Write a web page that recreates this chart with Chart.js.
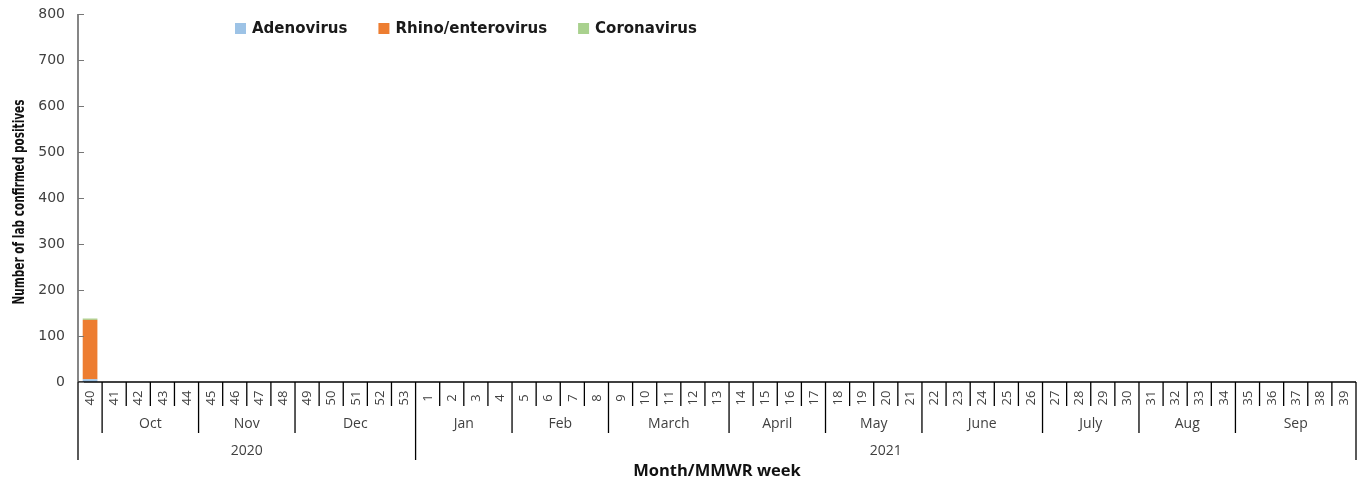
<!DOCTYPE html>
<html>
<head>
<meta charset="utf-8">
<script src="https://cdn.jsdelivr.net/npm/chart.js@4"></script>
<style>
  html, body { margin: 0; padding: 0; background: #fff; }
  #wrap { width: 1357px; height: 481px; position: relative; }
</style>
</head>
<body>
<div id="wrap"><canvas id="virusChart"></canvas></div>
<script>
// weeks (MMWR) shown on the x axis
const weeks = ['40','41','42','43','44','45','46','47','48','49','50','51','52','53',
  '1','2','3','4','5','6','7','8','9','10','11','12','13','14','15','16','17','18','19','20',
  '21','22','23','24','25','26','27','28','29','30','31','32','33','34','35','36','37','38','39'];

// month row and year row (label + number of weeks covered)
const monthLabels = ['', 'Oct', 'Nov', 'Dec', 'Jan', 'Feb', 'March', 'April', 'May', 'June', 'July', 'Aug', 'Sep'];
const monthSpans = [1, 4, 4, 5, 4, 4, 5, 4, 4, 5, 4, 4, 5];
const yearLabels = ['2020', '2021'];
const yearSpans = [14, 39];

// series
const adenovirus = [6,0,0,0,0,0,0,0,0,0,0,0,0,0,0,0,0,0,0,0,0,0,0,0,0,0,0,0,0,0,0,0,0,0,0,0,0,0,0,0,0,0,0,0,0,0,0,0,0,0,0,0,0];
const rhinoEntero = [129,0,0,0,0,0,0,0,0,0,0,0,0,0,0,0,0,0,0,0,0,0,0,0,0,0,0,0,0,0,0,0,0,0,0,0,0,0,0,0,0,0,0,0,0,0,0,0,0,0,0,0,0];
const coronavirus = [3,0,0,0,0,0,0,0,0,0,0,0,0,0,0,0,0,0,0,0,0,0,0,0,0,0,0,0,0,0,0,0,0,0,0,0,0,0,0,0,0,0,0,0,0,0,0,0,0,0,0,0,0];

const yTicks = [0, 100, 200, 300, 400, 500, 600, 700, 800];

const LABEL_FONT = '"Open Sans", "DejaVu Sans", sans-serif';

// draws the grouped category axis, y tick marks, axis titles and legend
const axisPlugin = {
  id: 'axisPlugin',
  afterDraw(chart) {
    const ctx = chart.ctx;
    const x = chart.scales.x;
    const y = chart.scales.y;
    const area = chart.chartArea;
    const n = weeks.length;
    const bottom = area.bottom;

    const edge = (i) => {
      if (i <= 0) return area.left;
      if (i >= n) return area.right;
      return (x.getPixelForValue(i - 1) + x.getPixelForValue(i)) / 2;
    };

    ctx.save();
    ctx.lineWidth = 1.3;
    ctx.strokeStyle = '#000';

    // x axis line
    ctx.beginPath();
    ctx.moveTo(area.left, bottom);
    ctx.lineTo(area.right, bottom);
    ctx.stroke();

    // y axis line
    ctx.strokeStyle = '#444';
    ctx.beginPath();
    ctx.moveTo(area.left, y.getPixelForValue(800));
    ctx.lineTo(area.left, bottom);
    ctx.stroke();

    // y tick marks (inside)
    ctx.strokeStyle = '#777';
    ctx.lineWidth = 1;
    yTicks.forEach(v => {
      const py = Math.round(y.getPixelForValue(v)) + 0.5;
      ctx.beginPath();
      ctx.moveTo(area.left, py);
      ctx.lineTo(area.left + 6, py);
      ctx.stroke();
    });

    // separator depth for each boundary
    const depth = new Array(n + 1).fill(bottom + 24);
    let acc = 0;
    monthSpans.forEach(s => { depth[acc] = bottom + 51; acc += s; depth[acc] = bottom + 51; });
    acc = 0;
    yearSpans.forEach(s => { depth[acc] = bottom + 78; acc += s; depth[acc] = bottom + 78; });

    ctx.strokeStyle = '#000';
    ctx.lineWidth = 1.3;
    for (let i = 0; i <= n; i++) {
      const px = edge(i);
      ctx.beginPath();
      ctx.moveTo(px, bottom);
      ctx.lineTo(px, depth[i]);
      ctx.stroke();
    }

    // week labels, rotated
    ctx.fillStyle = '#404040';
    ctx.font = '13px ' + LABEL_FONT;
    ctx.textAlign = 'center';
    ctx.textBaseline = 'middle';
    weeks.forEach((w, i) => {
      ctx.save();
      ctx.translate(x.getPixelForValue(i) + 0.5, bottom + 16);
      ctx.rotate(-Math.PI / 2);
      ctx.fillText(w, 0, 0);
      ctx.restore();
    });

    // month labels
    ctx.font = '14px ' + LABEL_FONT;
    acc = 0;
    monthLabels.forEach((m, k) => {
      const cx = (edge(acc) + edge(acc + monthSpans[k])) / 2;
      ctx.fillText(m, cx, bottom + 42);
      acc += monthSpans[k];
    });

    // year labels
    acc = 0;
    yearLabels.forEach((yr, k) => {
      const cx = (edge(acc) + edge(acc + yearSpans[k])) / 2;
      ctx.fillText(yr, cx, bottom + 69);
      acc += yearSpans[k];
    });

    // x title
    ctx.fillStyle = '#111';
    ctx.font = 'bold 16.5px ' + LABEL_FONT;
    ctx.fillText('Month/MMWR week', (area.left + area.right) / 2, bottom + 89);

    // y title
    ctx.save();
    ctx.translate(20, 202);
    ctx.rotate(-Math.PI / 2);
    ctx.font = 'bold 15px "Liberation Sans Narrow", "DejaVu Sans Condensed", "Roboto", sans-serif';
    ctx.fillText('Number of lab confirmed positives', 0, 0, 205);
    ctx.restore();

    // legend
    ctx.textAlign = 'left';
    ctx.font = 'bold 15px "DejaVu Sans", sans-serif';
    let lx = 235;
    const ly = 28;
    chart.data.datasets.forEach(ds => {
      ctx.fillStyle = ds.backgroundColor;
      ctx.fillRect(lx, ly - 5, 11, 11);
      ctx.fillStyle = '#1a1a1a';
      ctx.fillText(ds.label, lx + 17, ly + 1);
      lx += 17 + ctx.measureText(ds.label).width + 31;
    });

    ctx.restore();
  }
};

window.addEventListener('DOMContentLoaded', () => {
  const canvas = document.getElementById('virusChart').getContext('2d');
  new Chart(canvas, {
    type: 'bar',
    data: {
      labels: weeks,
      datasets: [
        { label: 'Adenovirus', data: adenovirus, backgroundColor: '#9DC3E6' },
        { label: 'Rhino/enterovirus', data: rhinoEntero, backgroundColor: '#ED7D31' },
        { label: 'Coronavirus', data: coronavirus, backgroundColor: '#A9D18E' }
      ]
    },
    options: {
      responsive: true,
      maintainAspectRatio: false,
      animation: false,
      layout: { padding: { top: 14, right: 1, bottom: 99, left: 0 } },
      datasets: { bar: { categoryPercentage: 1, barPercentage: 0.61 } },
      plugins: {
        legend: { display: false },
        tooltip: { enabled: false }
      },
      scales: {
        x: {
          stacked: true,
          display: false
        },
        y: {
          stacked: true,
          min: 0,
          max: 800,
          afterFit: (scale) => {
            scale.width = 78;
            scale.paddingTop = 0;
            scale.paddingBottom = 0;
          },
          afterBuildTicks: (scale) => { scale.ticks = yTicks.map(v => ({ value: v })); },
          grid: { display: false, drawTicks: false },
          border: { display: false },
          ticks: {
            padding: 13,
            color: '#404040',
            font: { family: '"DejaVu Sans", sans-serif', size: 14 }
          }
        }
      }
    },
    plugins: [axisPlugin]
  });
});
</script>
</body>
</html>
